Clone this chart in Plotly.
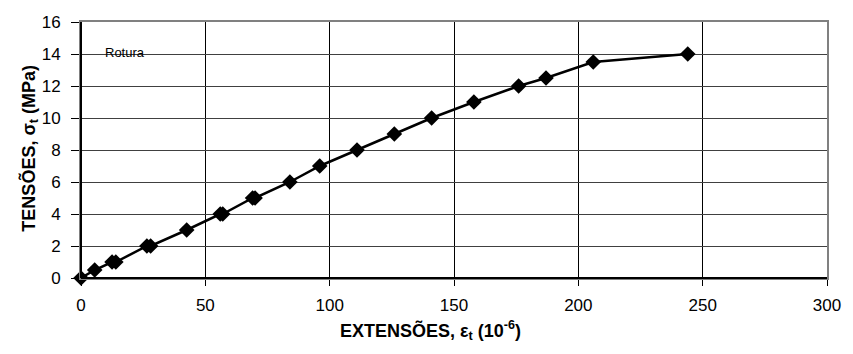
import plotly.graph_objects as go

strain = [0, 5.5, 12.5, 14, 26.5, 28, 42.5, 56, 57, 69, 70, 84, 96, 111, 126, 141, 158, 176, 187, 206, 244]
stress = [0, 0.5, 1, 1, 2, 2, 3, 4, 4, 5, 5, 6, 7, 8, 9, 10, 11, 12, 12.5, 13.5, 14]
x_ticks = [0, 50, 100, 150, 200, 250, 300]
y_ticks = [0, 2, 4, 6, 8, 10, 12, 14, 16]

FONT = "Liberation Sans, Arial, sans-serif"

fig = go.Figure()
fig.add_trace(go.Scatter(
    x=strain, y=stress, mode="lines+markers",
    line=dict(color="black", width=2.5),
    marker=dict(symbol="diamond", size=12, color="black"),
    showlegend=False, cliponaxis=False,
))

fig.add_annotation(x=9.0, y=14.1, text="Rotura", showarrow=False, xanchor="left",
                   yanchor="middle", font=dict(family=FONT, size=13, color="black"))

# axis titles
fig.add_annotation(xref="paper", yref="paper", x=0.468, y=-0.205, xanchor="center", yanchor="middle",
                   text="<b>EXTENSÕES, ε<sub>t</sub> (10<sup>-6</sup>)</b>", showarrow=False,
                   font=dict(family=FONT, size=18, color="black"))
fig.add_annotation(xref="paper", yref="paper", x=-0.0688, y=0.508, xanchor="center", yanchor="middle",
                   textangle=-90, text="<b>TENSÕES, σ<sub>t</sub> (MPa)</b>", showarrow=False,
                   font=dict(family=FONT, size=18, color="black"))

fig.update_layout(
    width=853, height=354,
    margin=dict(l=81, r=16, t=22, b=76),
    paper_bgcolor="white", plot_bgcolor="white",
    font=dict(family=FONT, size=17, color="black"),
    xaxis=dict(
        range=[0, 300], tickvals=x_ticks, showgrid=True, gridcolor="black", gridwidth=1,
        zeroline=False, showline=True, linecolor="#808080", linewidth=2, mirror=True,
        ticks="outside", ticklen=6, tickcolor="black", ticklabelstandoff=5,
    ),
    yaxis=dict(
        range=[0, 16], tickvals=y_ticks, showgrid=True, gridcolor="#404040", gridwidth=1,
        zeroline=False, showline=True, linecolor="#808080", linewidth=2, mirror=True,
        ticks="outside", ticklen=8, tickcolor="black", ticklabelstandoff=7,
    ),
)
# black left/bottom axis lines
fig.add_shape(type="line", xref="paper", yref="paper", x0=0, x1=0, y0=0, y1=1, line=dict(color="black", width=2))
fig.add_shape(type="line", xref="paper", yref="paper", x0=0, x1=1, y0=0, y1=0, line=dict(color="black", width=2))

fig.write_html("out.html")
